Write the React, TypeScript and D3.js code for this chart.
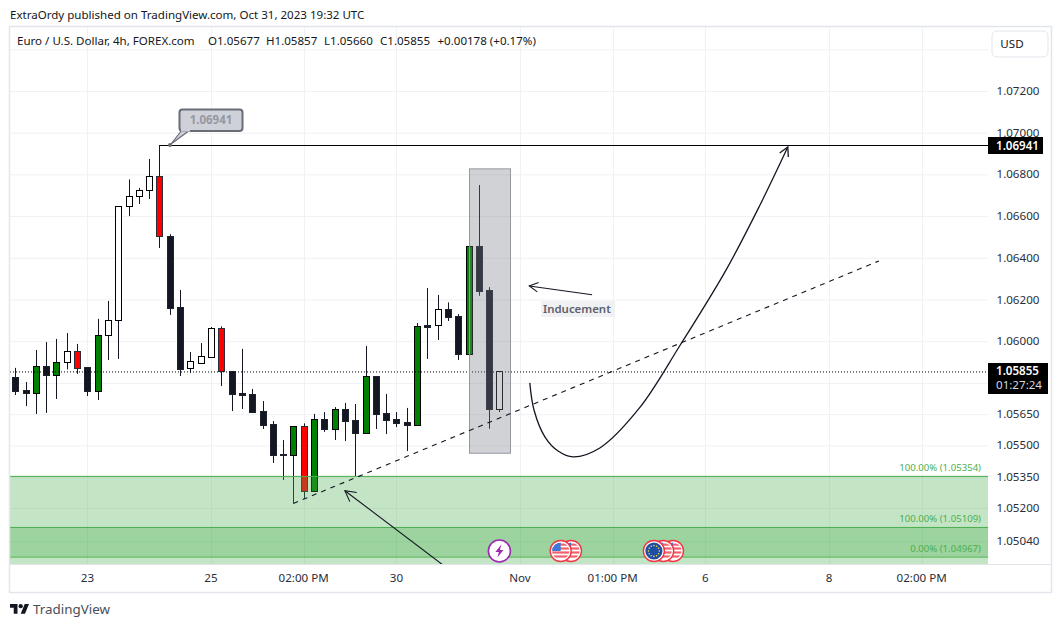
import React from "react";
import * as d3 from "d3";

const W = 1062, H = 627;
const FONT = "'Noto Sans', 'Open Sans', sans-serif";

// Chart data
const opens = [1.05827,1.05764,1.05753,1.05880,1.05840,1.05899,1.05951,1.05875,1.05763,1.06028,1.06100,1.06647,1.06695,1.06724,1.06791,1.06503,1.06162,1.05870,1.05896,1.05926,1.06062,1.05856,1.05752,1.05747,1.05664,1.05601,1.05459,1.05456,1.05592,1.05283,1.05625,1.05581,1.05673,1.05620,1.05561,1.05831,1.05654,1.05625,1.05611,1.05600,1.06076,1.06076,1.06153,1.06119,1.05940,1.06455,1.06244,1.05677];
const highs = [1.05872,1.05804,1.05958,1.05996,1.06011,1.06039,1.05987,1.05875,1.06107,1.06193,1.06647,1.06776,1.06735,1.06874,1.06941,1.06513,1.06246,1.05948,1.05991,1.06068,1.06071,1.05856,1.05963,1.05771,1.05713,1.05617,1.05526,1.05592,1.05606,1.05651,1.05660,1.05684,1.05704,1.05699,1.05977,1.05831,1.05747,1.05660,1.05680,1.06087,1.06255,1.06222,1.06186,1.06130,1.06455,1.06749,1.06259,1.05857];
const lows = [1.05742,1.05689,1.05651,1.05656,1.05723,1.05865,1.05843,1.05737,1.05718,1.05910,1.05915,1.06600,1.06658,1.06682,1.06447,1.06126,1.05833,1.05848,1.05896,1.05926,1.05785,1.05665,1.05675,1.05662,1.05579,1.05416,1.05334,1.05222,1.05246,1.05283,1.05565,1.05526,1.05521,1.05350,1.05561,1.05579,1.05555,1.05588,1.05473,1.05600,1.05915,1.06006,1.06097,1.05910,1.05940,1.06218,1.05580,1.05660];
const closes = [1.05763,1.05753,1.05880,1.05840,1.05899,1.05951,1.05873,1.05763,1.06028,1.06100,1.06647,1.06695,1.06724,1.06791,1.06503,1.06161,1.05868,1.05904,1.05927,1.06062,1.05856,1.05748,1.05744,1.05662,1.05600,1.05456,1.05456,1.05592,1.05283,1.05625,1.05581,1.05673,1.05619,1.05561,1.05831,1.05652,1.05624,1.05609,1.05600,1.06071,1.06070,1.06153,1.06118,1.05940,1.06455,1.06242,1.05676,1.05855];
const styles = "ddgdg" + "wrdgw" + "wwwwr" + "ddwww" + "rdddd" + "ddgrg" + "dgddg" + "ddddg" + "dwddg" + "ddw";

const priceTicks = [1.072,1.07,1.068,1.066,1.064,1.062,1.06,1.0565,1.055,1.0535,1.052,1.0504];
const gridPrices = [1.074,1.072,1.07,1.068,1.066,1.064,1.062,1.06,1.058,1.0565,1.055,1.0535,1.052,1.0504];
const timeTickBars = [7,19,28,37,49,58,67,79,88];
const timeTickLabels = ["23","25","02:00 PM","30","Nov","01:00 PM","6","8","02:00 PM"];
const legendItems = ["Euro / U.S. Dollar, 4h, FOREX.com","O1.05677","H1.05857","L1.05660","C1.05855","+0.00178 (+0.17%)"];
const legendOffsets = [17, 208, 266, 324, 380, 437.5];

const lastPrice = 1.05855;
const highPrice = 1.06941;
const zoneTop = 1.05354;
const zoneInnerTop = 1.05109;
const zoneInnerBottom = 1.04967;
const trendLine: [number, number][] = [[27, 1.05222],[83.85, 1.06385]];
const boxBars = [44.05, 48.03];
const boxPrices = [1.06829, 1.05465];
const curvePts: [number, number][] = [[49.95,1.05800],[50.36,1.0567],[51.43,1.0554],[52.7,1.05473],[54.15,1.05445],[56.75,1.05488],[60.6,1.05680],[64.5,1.05977],[69.0,1.06341],[72.3,1.06653],[75.0,1.06931]];
const inducementArrow: [number, number][] = [[56.0,1.06223],[49.9,1.06265]];
const supportArrow: [number, number][] = [[43.2,1.04864],[32.0,1.05283]];
const eventMarkers = [{ bar: 47, kind: "bolt" },{ bar: 53.95, kind: "us" },{ bar: 52.95, kind: "us" },{ bar: 63.85, kind: "us" },{ bar: 62.9, kind: "us" },{ bar: 62, kind: "eu" }];

const plot = { left: 10, right: 988, top: 27, bottom: 564 };
const x = d3.scaleLinear().domain([0, 47]).range([15.3, 499.4]);
const y = d3.scaleLinear().domain([1.072, 1.0504]).range([91, 541.36]);
const GRID = "#f0f1f4", BORDER = "#e3e5ec", INK = "#131722";
const fills: Record<string, string> = { d: "#131722", w: "#ffffff", g: "#008000", r: "#ff0000" };
const strokes: Record<string, string> = { d: "#1e222d", w: "#000000", g: "#000000", r: "#2a2e39" };
const fmt = d3.format(".5f");

function arrowHead(a: [number, number], b: [number, number], len = 10, spread = 0.5) {
  // a: tail point, b: tip point, both in pixels
  const ang = Math.atan2(a[1] - b[1], a[0] - b[0]);
  const p1 = [b[0] + len * Math.cos(ang + spread), b[1] + len * Math.sin(ang + spread)];
  const p2 = [b[0] + len * Math.cos(ang - spread), b[1] + len * Math.sin(ang - spread)];
  return `M${p1[0]},${p1[1]}L${b[0]},${b[1]}L${p2[0]},${p2[1]}`;
}
const px = (p: [number, number]): [number, number] => [x(p[0]), y(p[1])];

function Marker({ cx, cy, kind, id }: { cx: number; cy: number; kind: string; id: string }) {
  if (kind === "bolt") {
    return (
      <g transform={`translate(${cx},${cy})`}>
        <circle r={11} fill="#ffffff" stroke="#9c27b0" strokeWidth={1.6} />
        <path d="M2,-6.5L-4,1H-0.5L-2,6.5L4,-1H0.5Z" fill="#9c27b0" />
      </g>
    );
  }
  if (kind === "eu") {
    return (
      <g transform={`translate(${cx},${cy})`}>
        <circle r={10.5} fill="#ffffff" stroke="#f23645" strokeWidth={1.4} />
        <circle r={8.6} fill="#1f4fa3" />
        {d3.range(12).map((i) => (
          <circle key={i} cx={5.4 * Math.cos((i * Math.PI) / 6)} cy={5.4 * Math.sin((i * Math.PI) / 6)} r={0.8} fill="#ffd84a" />
        ))}
      </g>
    );
  }
  return (
    <g transform={`translate(${cx},${cy})`}>
      <clipPath id={id}><circle r={8.6} /></clipPath>
      <circle r={10.5} fill="#ffffff" stroke="#f23645" strokeWidth={1.4} />
      <g clipPath={`url(#${id})`}>
        <rect x={-9} y={-9} width={18} height={18} fill="#ffffff" />
        {[-7.5, -3.6, 0.4, 4.4].map((d) => (
          <rect key={d} x={-9} y={d} width={18} height={2.2} fill="#f0616b" />
        ))}
        <rect x={-9} y={-9} width={9} height={9} fill="#3f78d8" />
      </g>
    </g>
  );
}

export default function App() {
  const curve = d3.line().curve(d3.curveCatmullRom.alpha(0.5))(curvePts.map(px)) as string;
  const curveTail = px(curvePts[curvePts.length - 2]);
  const curveTip = px(curvePts[curvePts.length - 1]);
  const ia = inducementArrow.map(px);
  const sa = supportArrow.map(px);
  const hy = y(highPrice);
  const ly = y(lastPrice);

  return (
    <svg width={W} height={H} style={{ position: "absolute", left: 0, top: 0, background: "#ffffff", fontFamily: FONT }}>
      <defs>
        <clipPath id="plot"><rect x={plot.left} y={plot.top} width={plot.right - plot.left} height={plot.bottom - plot.top} /></clipPath>
      </defs>

      <text x={10} y={19} fontSize={11.55} fill={INK}>ExtraOrdy published on TradingView.com, Oct 31, 2023 19:32 UTC</text>

      <g clipPath="url(#plot)">
        {gridPrices.map((p) => (
          <line key={p} x1={plot.left} x2={plot.right} y1={y(p) + 0.5} y2={y(p) + 0.5} stroke={GRID} />
        ))}
        {timeTickBars.map((b) => (
          <line key={b} x1={Math.round(x(b)) + 0.5} x2={Math.round(x(b)) + 0.5} y1={plot.top} y2={plot.bottom} stroke={GRID} />
        ))}

        {opens.map((o, i) => {
          const c = closes[i], s = styles[i];
          const cx = Math.round(x(i)) + 0.5;
          const top = Math.round(y(Math.max(o, c))), bot = Math.round(y(Math.min(o, c)));
          return (
            <g key={i}>
              <line x1={cx} x2={cx} y1={y(highs[i])} y2={y(lows[i])} stroke="#131722" strokeWidth={1} />
              <rect x={cx - 3} y={top + 0.5} width={6} height={Math.max(bot - top, 1)} fill={fills[s]} stroke={strokes[s]} strokeWidth={1} />
            </g>
          );
        })}

        <line x1={plot.left} x2={plot.right} y1={ly + 0.5} y2={ly + 0.5} stroke="#000000" strokeDasharray="1 2" />

        <rect x={plot.left} y={y(zoneTop)} width={plot.right - plot.left} height={plot.bottom - y(zoneTop) + 20} fill="#4caf50" fillOpacity={0.33} />
        <line x1={plot.left} x2={plot.right} y1={y(zoneTop) + 0.5} y2={y(zoneTop) + 0.5} stroke="#4caf50" />
        <rect x={plot.left} y={y(zoneInnerTop)} width={plot.right - plot.left} height={y(zoneInnerBottom) - y(zoneInnerTop)} fill="#4caf50" fillOpacity={0.33} />
        <line x1={plot.left} x2={plot.right} y1={y(zoneInnerTop) + 0.5} y2={y(zoneInnerTop) + 0.5} stroke="#4caf50" />
        <line x1={plot.left} x2={plot.right} y1={y(zoneInnerBottom) + 0.5} y2={y(zoneInnerBottom) + 0.5} stroke="#4caf50" />

        <g fontSize={9.6} fill="#4caf50" textAnchor="end">
          <text x={981} y={471}>100.00% (1.05354)</text>
          <text x={981} y={522}>100.00% (1.05109)</text>
          <text x={981} y={552}>0.00% (1.04967)</text>
        </g>

        <rect
          x={x(boxBars[0]) + 0.5} y={y(boxPrices[0]) + 0.5}
          width={x(boxBars[1]) - x(boxBars[0])} height={y(boxPrices[1]) - y(boxPrices[0])}
          fill="#787b86" fillOpacity={0.34} stroke="#9598a1"
        />

        <line x1={x(14)} x2={plot.right} y1={hy + 0.5} y2={hy + 0.5} stroke="#000000" strokeWidth={1.2} />
        <path d={d3.line()(trendLine.map(px)) as string} fill="none" stroke="#131722" strokeWidth={1.1} strokeDasharray="5 5" />
        <path d={curve} fill="none" stroke="#131722" strokeWidth={1.3} />
        <path d={arrowHead(curveTail, curveTip)} fill="none" stroke="#131722" strokeWidth={1.3} />
        <path d={d3.line()(ia) as string} fill="none" stroke="#131722" strokeWidth={1.1} />
        <path d={arrowHead(ia[0], ia[1])} fill="none" stroke="#131722" strokeWidth={1.1} />
        <path d={d3.line()(sa) as string} fill="none" stroke="#131722" strokeWidth={1.1} />
        <path d={arrowHead(sa[0], sa[1], 12)} fill="none" stroke="#131722" strokeWidth={1.1} />

        {eventMarkers.map((m, i) => (
          <Marker key={i} id={`flag${i}`} cx={x(m.bar)} cy={551} kind={m.kind} />
        ))}
      </g>

      {/* callout */}
      <path d="M182,130 L171,144 L190,130 Z" fill="#cfd1d8" stroke="#6a6d78" strokeWidth={1.2} />
      <rect x={179.5} y={109.5} width={63} height={21.5} rx={3} fill="#cfd1d8" stroke="#6a6d78" strokeWidth={2} />
      <rect x={181} y={128} width={9} height={3.6} fill="#cfd1d8" />
      <circle cx={170} cy={145} r={2} fill="#6a6d78" />
      <text x={211} y={124} textAnchor="middle" fontSize={11.5} fontWeight={700} fill="#9598a1">{fmt(highPrice)}</text>

      {/* inducement label */}
      <rect x={541} y={301} width={74} height={16} fill="#f0f1f3" />
      <text x={543} y={313} fontSize={11.4} fontWeight={600} fill="#5d606b">Inducement</text>

      {/* frame */}
      <rect x={9.5} y={26.5} width={1042} height={566} fill="none" stroke={BORDER} strokeWidth={1.5} />
      <line x1={10} x2={1052} y1={564.5} y2={564.5} stroke={BORDER} />

      <g fontSize={11.55} fill={INK}>
        {legendItems.map((t, i) => (
          <text key={t} x={legendOffsets[i]} y={45}>{t}</text>
        ))}
      </g>

      {/* price axis */}
      <g fontSize={11.6} fill="#2a2e39">
        {priceTicks.map((p) => (
          <text key={p} x={996.5} y={y(p) + 4}>{fmt(p)}</text>
        ))}
      </g>

      {/* time axis */}
      <g fontSize={11.6} fill="#2a2e39" textAnchor="middle">
        {timeTickBars.map((b, i) => (
          <text key={b} x={x(b)} y={582}>{timeTickLabels[i]}</text>
        ))}
      </g>

      {/* USD */}
      <rect x={992} y={31} width={56} height={26} rx={5} fill="#ffffff" stroke="#e3e5ec" />
      <text x={1012} y={48} textAnchor="middle" fontSize={11.6} fill={INK}>USD</text>

      {/* price labels */}
      <rect x={988} y={137} width={55} height={17} fill="#000000" />
      <text x={996} y={149.5} fontSize={11.6} fontWeight={600} fill="#ffffff">{fmt(highPrice)}</text>
      <rect x={988} y={363} width={60} height={31} fill="#000000" />
      <text x={996} y={375} fontSize={11.6} fontWeight={600} fill="#ffffff">{fmt(lastPrice)}</text>
      <text x={996} y={389} fontSize={11.6} fill="#d6d8e0">01:27:24</text>

      {/* logo */}
      <g transform="translate(10,601.9) scale(0.535)" fill="#131722">
        <path d="M14 22H7V11H0V4h14v18zM28 22h-8l7.5-18h8L28 22z" />
        <circle cx={20} cy={8} r={4} />
      </g>
      <text x={33} y={614} fontSize={13.4} fill="#4a4e59">TradingView</text>
    </svg>
  );
}
